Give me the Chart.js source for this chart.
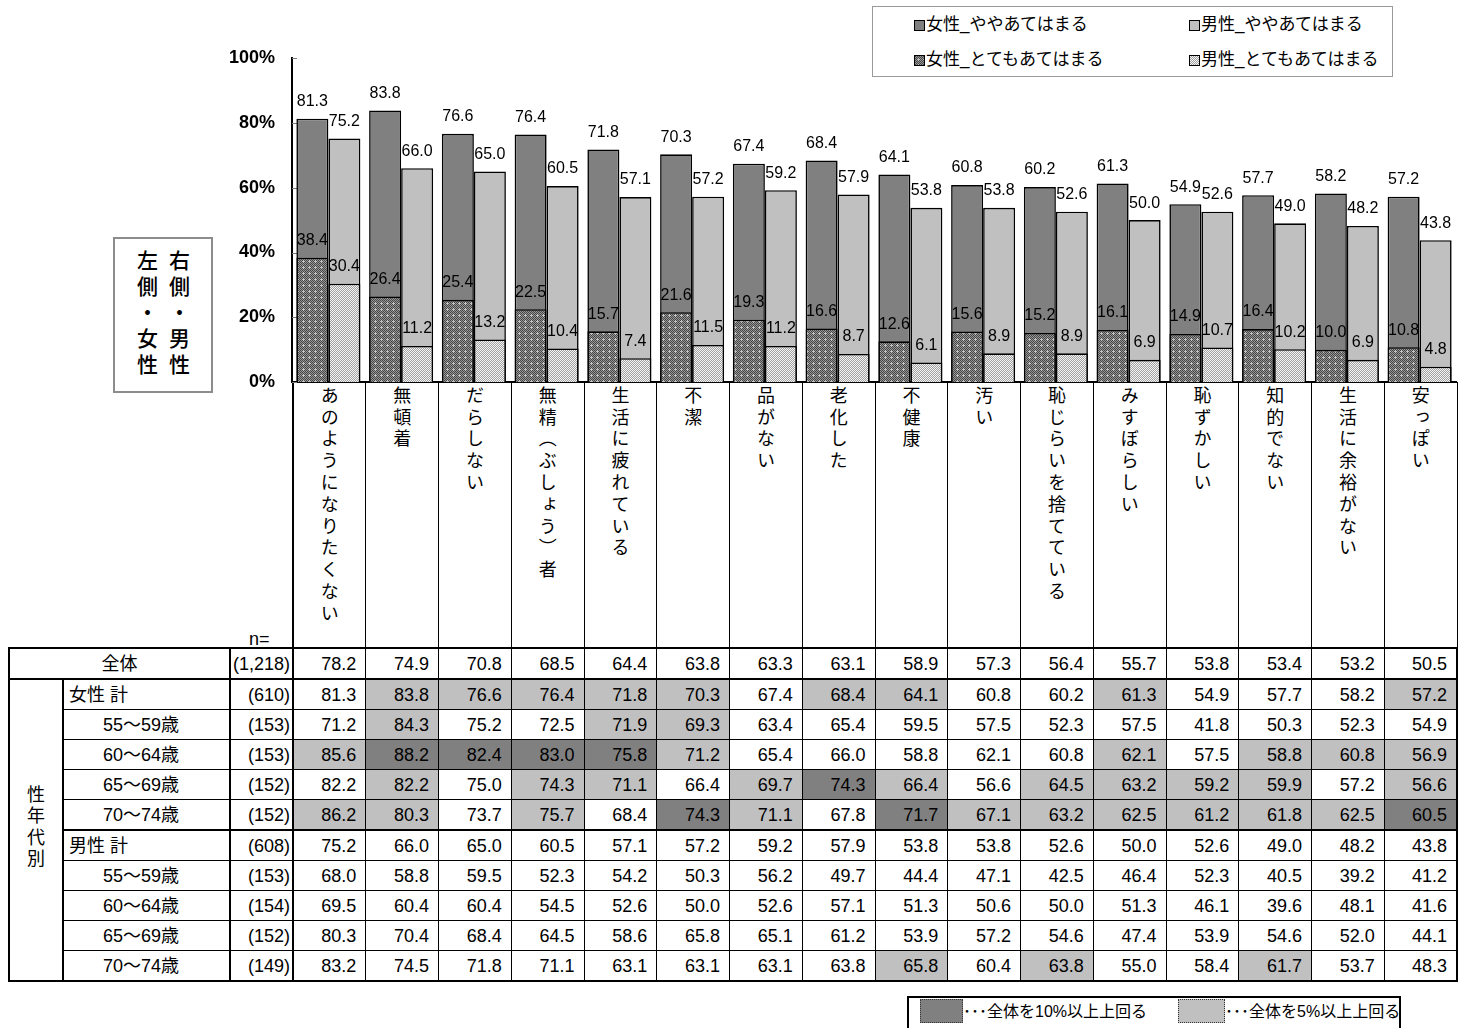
<!DOCTYPE html>
<html lang="ja">
<head>
<meta charset="utf-8">
<script src="https://cdn.jsdelivr.net/npm/chart.js@4.4.1/dist/chart.umd.min.js"></script>
<style>
  html, body { margin: 0; padding: 0; background: #fff; }
  body {
    width: 1467px; height: 1028px; position: relative; overflow: hidden;
    font-family: "Liberation Sans", Arial, "Noto Sans CJK JP", sans-serif; color: #000;
  }
  #chart { position: absolute; left: 0; top: 0; z-index: 2; }
  #legend {
    position: absolute; left: 872px; top: 6px; width: 521px; height: 71px;
    box-sizing: border-box; border: 1px solid #9a9a9a; background: #fff; z-index: 3;
    font-size: 17px;
  }
  .lg-item { position: absolute; display: flex; align-items: center; white-space: nowrap; line-height: 20px; }
  .lg-swatch { width: 9px; height: 9px; border: 1px solid #000; margin-right: 1px; }
  #sidebox {
    position: absolute; left: 113px; top: 237px; width: 100px; height: 156px;
    box-sizing: border-box; border: 2px solid #8c8c8c; z-index: 3; background: #fff;
    display: flex; justify-content: center; align-items: center; gap: 11px;
  }
  .vt2 { writing-mode: vertical-rl; font-family: "Noto Sans CJK JP", sans-serif; font-size: 21px; line-height: 21px; letter-spacing: 5px; font-weight: 500; }
  #grid {
    position: absolute; left: 8px; top: 382px; border-collapse: collapse; table-layout: fixed;
    font-size: 18px; line-height: 22px; z-index: 1;
  }
  #grid td { border: 1px solid #000; padding: 0; height: 29px; white-space: nowrap; }
  #grid tr.hdr td { height: 261px; border-top: none; border-bottom: 2px solid #000; vertical-align: top; text-align: center; padding-top: 4px; }
  #grid tr.hdr td.corner { border-left: none; border-right: 2px solid #000; }
  .vt { display: inline-block; writing-mode: vertical-rl; font-family: "Noto Sans CJK JP", sans-serif; font-size: 18px; line-height: 20px; letter-spacing: 3.8px; }
  #grid td.val { text-align: right; padding-right: 9px; }
  #grid td.val.last { border-right: 2px solid #000; }
  #grid td.n { text-align: right; padding-right: 2px; border-right: 2px solid #000; border-left: 2px solid #000; }
  #grid td.lbl { text-align: left; padding-left: 5px; }
  #grid td.lbl.sub { padding-left: 39px; }
  #grid td.lbl.all { text-align: center; padding-left: 0; border-left: 2px solid #000; }
  #grid td.grp { border-left: 2px solid #000; border-right: 2px solid #000; border-bottom: 2px solid #000; text-align: center; vertical-align: middle; }
  #grid td.grp .vt { letter-spacing: 3.5px; }
  #grid tr.top td { border-top: 2px solid #000; border-bottom: 2px solid #000; }
  #grid tr.grpstart td { border-top: 2px solid #000; }
  #grid tr.end td { border-bottom: 2px solid #000; }
  #grid td.m1 { background: #c0c0c0; }
  #grid td.m2 { background: #808080; }
  #nlabel { position: absolute; left: 249px; top: 629px; font-size: 18px; z-index: 3; }
  #marks {
    position: absolute; left: 907px; top: 996px; width: 494px; height: 42px;
    box-sizing: border-box; border: 2px solid #000; font-size: 16px;
  }
  #marks .sw { position: absolute; top: 1px; height: 24px; box-sizing: border-box; border: 1px dotted #333; }
  #marks .mt { position: absolute; top: 2px; line-height: 24px; white-space: nowrap; }
</style>
</head>
<body>
<canvas id="chart" width="1467" height="402"></canvas>
<div id="legend"></div>
<div id="sidebox"><span class="vt2">左側・女性</span><span class="vt2">右側・男性</span></div>
<div id="nlabel">n=</div>
<table id="grid"></table>
<div id="marks">
  <span class="sw" style="left:11px;width:43px;background:#808080"></span>
  <span class="mt" style="left:54px">･･･全体を10%以上上回る</span>
  <span class="sw" style="left:269px;width:47px;background:#c0c0c0"></span>
  <span class="mt" style="left:316px">･･･全体を5%以上上回る</span>
</div>
<script>
// ---- data ----
const categories = ['あのようになりたくない', '無頓着', 'だらしない', '無精（ぶしょう）者', '生活に疲れている', '不潔', '品がない', '老化した', '不健康', '汚い', '恥じらいを捨てている', 'みすぼらしい', '恥ずかしい', '知的でない', '生活に余裕がない', '安っぽい'];

// bar totals (とても + やや) and the とても part
const femaleTotal = [81.3, 83.8, 76.6, 76.4, 71.8, 70.3, 67.4, 68.4, 64.1, 60.8, 60.2, 61.3, 54.9, 57.7, 58.2, 57.2];
const femaleVery  = [38.4, 26.4, 25.4, 22.5, 15.7, 21.6, 19.3, 16.6, 12.6, 15.6, 15.2, 16.1, 14.9, 16.4, 10.0, 10.8];
const maleTotal   = [75.2, 66.0, 65.0, 60.5, 57.1, 57.2, 59.2, 57.9, 53.8, 53.8, 52.6, 50.0, 52.6, 49.0, 48.2, 43.8];
const maleVery    = [30.4, 11.2, 13.2, 10.4, 7.4, 11.5, 11.2, 8.7, 6.1, 8.9, 8.9, 6.9, 10.7, 10.2, 6.9, 4.8];

const yTickValues = [0, 20, 40, 60, 80, 100];

// table rows
const totalRow = [78.2, 74.9, 70.8, 68.5, 64.4, 63.8, 63.3, 63.1, 58.9, 57.3, 56.4, 55.7, 53.8, 53.4, 53.2, 50.5];
const female55 = [71.2, 84.3, 75.2, 72.5, 71.9, 69.3, 63.4, 65.4, 59.5, 57.5, 52.3, 57.5, 41.8, 50.3, 52.3, 54.9];
const female60 = [85.6, 88.2, 82.4, 83.0, 75.8, 71.2, 65.4, 66.0, 58.8, 62.1, 60.8, 62.1, 57.5, 58.8, 60.8, 56.9];
const female65 = [82.2, 82.2, 75.0, 74.3, 71.1, 66.4, 69.7, 74.3, 66.4, 56.6, 64.5, 63.2, 59.2, 59.9, 57.2, 56.6];
const female70 = [86.2, 80.3, 73.7, 75.7, 68.4, 74.3, 71.1, 67.8, 71.7, 67.1, 63.2, 62.5, 61.2, 61.8, 62.5, 60.5];
const male55   = [68.0, 58.8, 59.5, 52.3, 54.2, 50.3, 56.2, 49.7, 44.4, 47.1, 42.5, 46.4, 52.3, 40.5, 39.2, 41.2];
const male60   = [69.5, 60.4, 60.4, 54.5, 52.6, 50.0, 52.6, 57.1, 51.3, 50.6, 50.0, 51.3, 46.1, 39.6, 48.1, 41.6];
const male65   = [80.3, 70.4, 68.4, 64.5, 58.6, 65.8, 65.1, 61.2, 53.9, 57.2, 54.6, 47.4, 53.9, 54.6, 52.0, 44.1];
const male70   = [83.2, 74.5, 71.8, 71.1, 63.1, 63.1, 63.1, 63.8, 65.8, 60.4, 63.8, 55.0, 58.4, 61.7, 53.7, 48.3];

// 2 = 全体を10%以上上回る, 1 = 全体を5%以上上回る
const noMark       = [0, 0, 0, 0, 0, 0, 0, 0, 0, 0, 0, 0, 0, 0, 0, 0];
const femaleMark   = [0, 1, 1, 1, 1, 1, 0, 1, 1, 0, 0, 1, 0, 0, 0, 1];
const female55Mark = [0, 1, 0, 0, 1, 1, 0, 0, 0, 0, 0, 0, 0, 0, 0, 0];
const female60Mark = [1, 2, 2, 2, 2, 1, 0, 0, 0, 0, 0, 1, 0, 1, 1, 1];
const female65Mark = [0, 1, 0, 1, 1, 0, 1, 2, 1, 0, 1, 1, 1, 1, 0, 1];
const female70Mark = [1, 1, 0, 1, 0, 2, 1, 0, 2, 1, 1, 1, 1, 1, 1, 2];
const male70Mark   = [0, 0, 0, 0, 0, 0, 0, 0, 1, 0, 1, 0, 0, 1, 0, 0];

const rowLabels = ['全体', '女性 計', '55～59歳', '60～64歳', '65～69歳', '70～74歳', '男性 計', '55～59歳', '60～64歳', '65～69歳', '70～74歳'];
const rowN = ['(1,218)', '(610)', '(153)', '(153)', '(152)', '(152)', '(608)', '(153)', '(154)', '(152)', '(149)'];
const rowValues = [totalRow, femaleTotal, female55, female60, female65, female70, maleTotal, male55, male60, male65, male70];
const rowMarks = [noMark, femaleMark, female55Mark, female60Mark, female65Mark, female70Mark, noMark, noMark, noMark, noMark, male70Mark];

// ---- fills ----
function makeTile(size, paint) {
  const c = document.createElement('canvas');
  c.width = c.height = size;
  paint(c.getContext('2d'), size);
  return c;
}
const darkTile = makeTile(6, (g, s) => {
  for (let y = 0; y < s; y++) for (let x = 0; x < s; x++) {
    g.fillStyle = (x + y) % 2 ? '#969696' : '#474747';
    g.fillRect(x, y, 1, 1);
  }
  g.fillStyle = '#c4c4c4';
  g.fillRect(3, 2, 1, 3);
  g.fillRect(2, 3, 3, 1);
});
const lightTile = makeTile(4, (g, s) => {
  for (let y = 0; y < s; y++) for (let x = 0; x < s; x++) {
    g.fillStyle = (x + y) % 2 ? '#a2a2a2' : '#f4f4f4';
    g.fillRect(x, y, 1, 1);
  }
});
const patCtx = document.createElement('canvas').getContext('2d');
const darkPattern = patCtx.createPattern(darkTile, 'repeat');
const lightPattern = patCtx.createPattern(lightTile, 'repeat');

// ---- plugins ----
const valueLabels = {
  id: 'valueLabels',
  afterDatasetsDraw(chart) {
    const { ctx } = chart;
    ctx.save();
    ctx.font = '16px "Liberation Sans", Arial, sans-serif';
    ctx.fillStyle = '#000';
    ctx.textAlign = 'center';
    ctx.textBaseline = 'middle';
    chart.data.datasets.forEach((ds, i) => {
      chart.getDatasetMeta(i).data.forEach((bar, j) => {
        ctx.fillText(ds.data[j].toFixed(1), bar.x, bar.y - 17);
      });
    });
    ctx.restore();
  }
};
const innerTicks = {
  id: 'innerTicks',
  beforeDatasetsDraw(chart) {
    const { ctx, chartArea } = chart;
    const ys = chart.scales.y;
    ctx.save();
    ctx.strokeStyle = '#7a7a7a';
    ctx.lineWidth = 1;
    ys.ticks.forEach(t => {
      const py = Math.round(ys.getPixelForValue(t.value)) + 0.5;
      ctx.beginPath();
      ctx.moveTo(chartArea.left, py);
      ctx.lineTo(chartArea.left + 5, py);
      ctx.stroke();
    });
    ctx.restore();
  }
};

const barStyle = { borderColor: '#000', borderWidth: 1.6, borderSkipped: 'start' };
const chart = new Chart(document.getElementById('chart'), {
  type: 'bar',
  data: {
    labels: categories,
    datasets: [
      { label: '女性_とてもあてはまる', data: femaleVery, stack: 'female', backgroundColor: darkPattern, ...barStyle },
      { label: '男性_とてもあてはまる', data: maleVery, stack: 'male', backgroundColor: lightPattern, ...barStyle },
      { label: '女性_ややあてはまる', data: femaleTotal, stack: 'female', backgroundColor: '#808080', ...barStyle },
      { label: '男性_ややあてはまる', data: maleTotal, stack: 'male', backgroundColor: '#c0c0c0', ...barStyle }
    ]
  },
  options: {
    responsive: false,
    animation: false,
    devicePixelRatio: 1,
    layout: { padding: { top: 58, right: 11, bottom: 0, left: 0 } },
    datasets: { bar: { categoryPercentage: 0.88, barPercentage: 1.0 } },
    plugins: { legend: { display: false }, tooltip: { enabled: false } },
    scales: {
      x: {
        stacked: true,
        afterFit(scale) { scale.height = 0; },
        grid: { display: false, drawTicks: false },
        ticks: { display: false },
        border: { display: true, color: '#000', width: 2 }
      },
      y: {
        stacked: false,
        min: 0, max: 100,
        afterBuildTicks(scale) { scale.ticks = yTickValues.map(v => ({ value: v })); },
        afterFit(scale) { scale.width = 292; },
        grid: { display: false },
        border: { display: true, color: '#000', width: 2 },
        ticks: {
          padding: 9,
          color: '#000',
          font: { family: '"Liberation Sans", Arial, sans-serif', size: 18, weight: 'bold' },
          callback: v => v + '%'
        }
      }
    }
  },
  plugins: [innerTicks, valueLabels]
});

// ---- legend ----
(function buildLegend() {
  const box = document.getElementById('legend');
  const order = [2, 3, 0, 1];
  const pos = [[41, 8], [316, 8], [41, 43], [316, 43]];
  const tiles = { 0: darkTile.toDataURL(), 1: lightTile.toDataURL() };
  order.forEach((di, k) => {
    const ds = chart.data.datasets[di];
    const item = document.createElement('div');
    item.className = 'lg-item';
    item.style.left = pos[k][0] + 'px';
    item.style.top = pos[k][1] + 'px';
    const sw = document.createElement('span');
    sw.className = 'lg-swatch';
    if (typeof ds.backgroundColor === 'string') sw.style.background = ds.backgroundColor;
    else sw.style.backgroundImage = 'url(' + tiles[di] + ')';
    const tx = document.createElement('span');
    tx.textContent = ds.label;
    item.appendChild(sw);
    item.appendChild(tx);
    box.appendChild(item);
  });
})();

// ---- table ----
(function buildTable() {
  const t = document.getElementById('grid');
  const widths = [54, 167, 63].concat(categories.map(() => 72.75));
  const cg = document.createElement('colgroup');
  widths.forEach(w => { const c = document.createElement('col'); c.style.width = w + 'px'; cg.appendChild(c); });
  t.appendChild(cg);

  const hdr = document.createElement('tr');
  hdr.className = 'hdr';
  const corner = document.createElement('td');
  corner.colSpan = 3;
  corner.className = 'corner';
  hdr.appendChild(corner);
  categories.forEach(c => {
    const td = document.createElement('td');
    td.className = 'cat';
    const d = document.createElement('span');
    d.className = 'vt';
    d.textContent = c;
    td.appendChild(d);
    hdr.appendChild(td);
  });
  t.appendChild(hdr);

  rowLabels.forEach((lab, r) => {
    const tr = document.createElement('tr');
    if (r === 0) tr.className = 'top';
    if (r === 6) tr.className = 'grpstart';
    if (r === rowLabels.length - 1) tr.className = 'end';
    const labelCell = document.createElement('td');
    labelCell.textContent = lab;
    if (r === 0) {
      labelCell.colSpan = 2;
      labelCell.className = 'lbl all';
    } else {
      if (r === 1) {
        const g = document.createElement('td');
        g.rowSpan = 10;
        g.className = 'grp';
        const s = document.createElement('span');
        s.className = 'vt';
        s.textContent = '性年代別';
        g.appendChild(s);
        tr.appendChild(g);
      }
      labelCell.className = (r === 1 || r === 6) ? 'lbl' : 'lbl sub';
    }
    tr.appendChild(labelCell);
    const n = document.createElement('td');
    n.className = 'n';
    n.textContent = rowN[r];
    tr.appendChild(n);
    rowValues[r].forEach((v, i) => {
      const td = document.createElement('td');
      let cls = 'val';
      if (rowMarks[r][i] === 1) cls += ' m1';
      if (rowMarks[r][i] === 2) cls += ' m2';
      if (i === categories.length - 1) cls += ' last';
      td.className = cls;
      td.textContent = v.toFixed(1);
      tr.appendChild(td);
    });
    t.appendChild(tr);
  });
})();
</script>
</body>
</html>
